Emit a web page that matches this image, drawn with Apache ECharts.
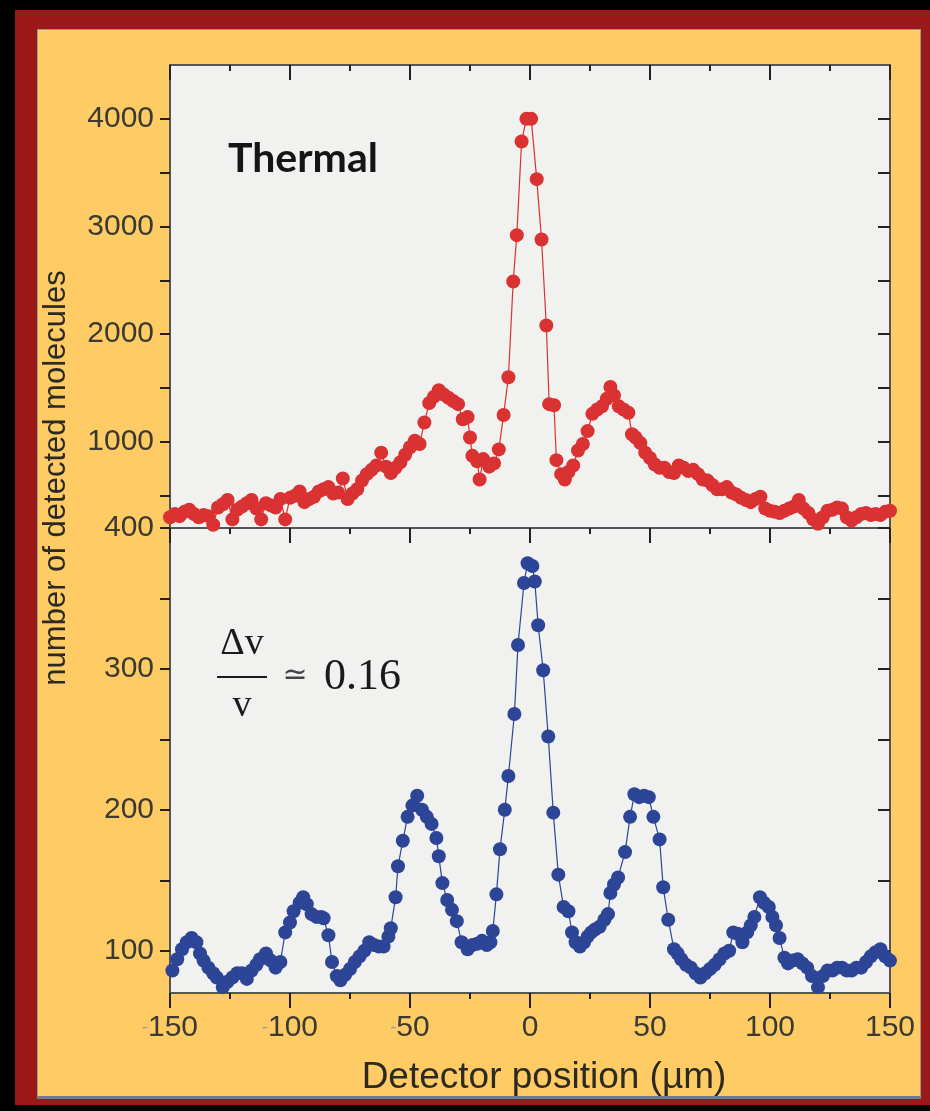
<!DOCTYPE html>
<html>
<head>
<meta charset="utf-8">
<script src="https://cdn.jsdelivr.net/npm/echarts@6/dist/echarts.min.js"></script>
<style>
  html, body { margin: 0; padding: 0; background: #000; }
  #frame { position: absolute; left: 15px; top: 10px; width: 915px; height: 1095px; background: #9b1919; }
  #panel { position: absolute; left: 37px; top: 29px; width: 882px; height: 1066px; background: #ffcb64;
           border: 1px solid #9a9a8a; border-bottom: 3px solid #6b7b96; }
  #plotbg { position: absolute; left: 170px; top: 65px; width: 720px; height: 928px; background: #f1f1ef; }
  #main { position: absolute; left: 0; top: 0; width: 930px; height: 1111px; }
</style>
</head>
<body>
<div id="frame"></div>
<div id="panel"></div>
<div id="plotbg"></div>
<div id="main"></div>
<script>
  // thermal beam, [position µm, counts]
  const thermal = [
    [-150, 300], [-148, 330], [-146, 310], [-144, 350], [-142, 370], [-140, 330], [-138, 300], [-136, 320],
    [-134, 310], [-132, 230], [-130, 390], [-128, 420], [-126, 460], [-124, 280], [-122, 370], [-120, 400],
    [-118, 430], [-116, 460], [-114, 380], [-112, 280], [-110, 430], [-108, 410], [-106, 390], [-104, 470],
    [-102, 280], [-100, 480], [-98, 500], [-96, 540], [-94, 440], [-92, 470], [-90, 490], [-88, 540],
    [-86, 560], [-84, 580], [-82, 520], [-80, 530], [-78, 660], [-76, 470], [-74, 520], [-72, 560],
    [-70, 640], [-68, 700], [-66, 740], [-64, 780], [-62, 900], [-60, 770], [-58, 710], [-56, 760],
    [-54, 810], [-52, 880], [-50, 950], [-48, 1010], [-46, 980], [-44, 1180], [-42, 1360], [-40, 1420],
    [-38, 1480], [-36, 1440], [-34, 1410], [-32, 1380], [-30, 1350], [-28, 1210], [-26, 1230], [-25, 1040],
    [-24, 870], [-22, 820], [-21, 650], [-19.5, 840], [-17, 770], [-15, 800], [-13, 930], [-11, 1250],
    [-9, 1600], [-7, 2490], [-5.5, 2920], [-3.5, 3790], [-1.5, 4000], [0.5, 4000], [2.8, 3440], [4.8, 2880],
    [6.8, 2080], [8, 1350], [10, 1340], [11, 830], [13, 700], [14.5, 650], [16, 720], [18, 780],
    [20, 920], [22, 980], [24, 1100], [26, 1260], [28, 1300], [30, 1330], [32, 1400], [33.5, 1510],
    [35, 1430], [37, 1330], [39, 1300], [41, 1270], [42.5, 1070], [44, 1040], [46, 990], [48, 900],
    [50, 850], [52, 790], [54, 760], [56, 760], [58, 720], [60, 710], [62, 780], [64, 760],
    [66, 730], [68, 740], [70, 700], [72, 650], [74, 640], [76, 600], [78, 560], [80, 560],
    [82, 580], [84, 530], [86, 510], [88, 480], [90, 460], [92, 440], [94, 470], [96, 490],
    [98, 380], [100, 360], [102, 350], [104, 340], [106, 360], [108, 380], [110, 400], [112, 460],
    [114, 380], [116, 340], [118, 280], [120, 240], [122, 300], [124, 360], [126, 370], [128, 390],
    [130, 380], [132, 300], [134, 270], [136, 300], [138, 330], [140, 340], [142, 320], [144, 330],
    [146, 320], [148, 350], [150, 360]
  ]

  // velocity selected beam, dv/v ~ 0.16
  const selected = [
    [-149, 86], [-147, 94], [-145, 101], [-143, 106], [-141, 109], [-139, 106], [-137.5, 98], [-136, 93],
    [-134, 88], [-132, 84], [-130.5, 81], [-128, 74], [-126, 78], [-124, 81], [-122, 84], [-120, 84],
    [-118, 80], [-116, 86], [-114, 90], [-112.5, 94], [-110, 98], [-108, 93], [-106, 88], [-104, 92],
    [-102, 113], [-100, 120], [-98.5, 128], [-96, 134], [-94.5, 138], [-93, 133], [-91, 126], [-89, 124],
    [-87, 124], [-86, 123], [-84, 111], [-82.5, 92], [-80.5, 82], [-79, 79], [-77, 83], [-75, 87],
    [-73, 92], [-71, 96], [-69, 100], [-67, 106], [-65, 104], [-63, 103], [-61, 103], [-59, 110],
    [-58, 116], [-56, 138], [-55, 160], [-53, 178], [-51, 195], [-49, 203], [-47, 210], [-45, 200],
    [-43, 195], [-41, 190], [-39, 180], [-38, 167], [-36.5, 148], [-34.5, 136], [-32.5, 129], [-30.5, 121],
    [-28.5, 106], [-26, 101], [-24, 104], [-22, 105], [-20, 107], [-18, 104], [-16.5, 106], [-15.5, 114],
    [-14, 140], [-12.5, 172], [-10.5, 200], [-9, 224], [-6.5, 268], [-5, 317], [-2.5, 361], [-1, 375],
    [1, 373], [2, 362], [3.4, 331], [5.5, 299], [7.6, 252], [9.7, 198], [11.8, 154], [14, 131],
    [16, 128], [17.5, 113], [19, 106], [20.8, 103], [22.5, 106], [24, 110], [25.5, 113], [27, 115],
    [29, 117], [31, 122], [32.5, 126], [33.5, 141], [35, 147], [36.7, 152], [39.6, 170], [41.7, 195],
    [43.5, 211], [45.5, 209], [47.5, 210], [49.5, 209], [51.4, 195], [54, 179], [55.5, 145], [57.6, 122],
    [60, 101], [61.5, 98], [63, 94], [65, 90], [67, 88], [69, 84], [71, 81], [73, 84],
    [75, 87], [77, 90], [79, 94], [81, 98], [83, 100], [84.7, 113], [86.5, 112], [88.5, 106],
    [90.5, 113], [92, 118], [93.5, 124], [95.8, 138], [97.5, 134], [99.5, 131], [101, 124], [102.5, 118],
    [104, 109], [106, 95], [107.5, 91], [109.5, 93], [111.5, 94], [113.5, 91], [115.5, 88], [117.5, 82],
    [120, 74], [122, 82], [124, 86], [126, 86], [128, 88], [130, 88], [132, 86], [134, 86],
    [136, 88], [138, 88], [140, 92], [142, 96], [144, 99], [146, 101], [148, 96], [150, 93]
  ]

  const xTicks = [-150, -100, -50, 0, 50, 100, 150]
  const xMinorTicks = [-125, -75, -25, 25, 75, 125]
  const topTicks = [200, 500, 1000, 1500, 2000, 2500, 3000, 3500, 4000]
  const topLabels = [200, 1000, 2000, 3000, 4000]
  const bottomTicks = [100, 150, 200, 250, 300, 350]
  const bottomLabels = [100, 200, 300]

  const TOP_MAX = 4500
  const BOTTOM_MAX = 400

  const RED = '#da3232'
  const BLUE = '#2c4596'
  const AXIS = '#555'
  const FONT = '"Liberation Sans", Arial, sans-serif'
  const labelStyle = { fontFamily: FONT, fontSize: 30, color: '#3a3a30' }

  const chart = echarts.init(document.getElementById('main'), null, { renderer: 'canvas' })

  function xAxisDef(gridIndex, labels) {
    return {
      type: 'value', gridIndex, position: 'bottom',
      min: xTicks[0], max: xTicks[xTicks.length - 1], interval: 50,
      axisLine: { show: true, onZero: false, lineStyle: { color: AXIS, width: 2 } },
      axisTick: { show: labels, length: 15, lineStyle: { color: '#222', width: 2 } },
      minorTick: { show: labels, splitNumber: 2, length: 6, lineStyle: { color: '#222', width: 2 } },
      axisLabel: {
        show: labels, margin: 20, ...labelStyle,
        formatter: v => v < 0 ? '{m|-}' + Math.abs(v) : String(v),
        rich: { m: { fontSize: 18, color: '#999', fontFamily: FONT } }
      },
      splitLine: { show: false }
    }
  }

  function yAxisDef(gridIndex, position, min, max, ticks, labels, fmt) {
    const left = position === 'left'
    return {
      type: 'value', gridIndex, position, min, max,
      axisLine: { show: true, onZero: false, lineStyle: { color: AXIS, width: 2 } },
      axisTick: {
        show: true, inside: !left, length: left ? 10 : 12, customValues: ticks,
        lineStyle: { color: '#222', width: 2 }
      },
      axisLabel: {
        show: left, margin: 16, customValues: labels, ...labelStyle, formatter: fmt
      },
      splitLine: { show: false }
    }
  }

  // ticks hanging down from the top edge of a panel: [x, top of axis, tick length]
  function edgeTicks(yMax) {
    return xTicks.map(x => [x, yMax, 15]).concat(xMinorTicks.map(x => [x, yMax, 6]))
  }

  function tickSeries(xAxisIndex, yAxisIndex, yMax) {
    return {
      type: 'custom', xAxisIndex, yAxisIndex, clip: false, silent: true, z: 4,
      data: edgeTicks(yMax),
      renderItem: (params, api) => {
        const p = api.coord([api.value(0), api.value(1)])
        return {
          type: 'line',
          shape: { x1: p[0], y1: p[1], x2: p[0], y2: p[1] + api.value(2) },
          style: { stroke: '#222', lineWidth: 2 }
        }
      }
    }
  }

  chart.setOption({
    animation: false,
    backgroundColor: 'transparent',
    grid: [
      { left: 170, top: 65, width: 720, height: 463, show: false },
      { left: 170, top: 528, width: 720, height: 465, show: false },
      { left: 170, top: 25, width: 720, height: 40, show: false }
    ],
    xAxis: [
      xAxisDef(0, false),
      xAxisDef(1, true),
      xAxisDef(2, false)
    ],
    yAxis: [
      yAxisDef(0, 'left', 200, TOP_MAX, topTicks, topLabels, v => v === 200 ? '400' : String(v)),
      yAxisDef(0, 'right', 200, TOP_MAX, topTicks, topLabels),
      yAxisDef(1, 'left', 70, BOTTOM_MAX, bottomTicks, bottomLabels, v => String(v)),
      yAxisDef(1, 'right', 70, BOTTOM_MAX, bottomTicks, bottomLabels),
      { type: 'value', gridIndex: 2, min: 0, max: 1, show: false }
    ],
    series: [
      {
        name: 'Thermal', type: 'line', xAxisIndex: 0, yAxisIndex: 0, data: thermal,
        symbol: 'circle', symbolSize: 14, showAllSymbol: true, clip: false, z: 3,
        itemStyle: { color: RED }, lineStyle: { color: RED, width: 1.2 }
      },
      {
        name: 'Selected', type: 'line', xAxisIndex: 1, yAxisIndex: 2, data: selected,
        symbol: 'circle', symbolSize: 14, showAllSymbol: true, clip: false, z: 3,
        itemStyle: { color: BLUE }, lineStyle: { color: BLUE, width: 1.2 }
      },
      tickSeries(0, 0, TOP_MAX),
      tickSeries(1, 2, BOTTOM_MAX)
    ],
    graphic: [
      {
        type: 'text', left: 228, top: 138,
        style: { text: 'Thermal', font: 'bold 41px Lato, "Open Sans", sans-serif', fill: '#151515' }
      },
      {
        type: 'text', x: 242, y: 644,
        style: { text: 'Δv', font: '38px "Liberation Serif", "DejaVu Serif", serif', fill: '#1a1a1a',
                 textAlign: 'center', textVerticalAlign: 'middle' }
      },
      {
        type: 'line', shape: { x1: 217, y1: 677, x2: 267, y2: 677 },
        style: { stroke: '#1a1a1a', lineWidth: 2 }
      },
      {
        type: 'text', x: 242, y: 706,
        style: { text: 'v', font: '38px "Liberation Serif", "DejaVu Serif", serif', fill: '#1a1a1a',
                 textAlign: 'center', textVerticalAlign: 'middle' }
      },
      {
        type: 'text', x: 295, y: 676,
        style: { text: '≃', font: '30px "DejaVu Serif", serif', fill: '#444',
                 textAlign: 'center', textVerticalAlign: 'middle' }
      },
      {
        type: 'text', x: 324, y: 677,
        style: { text: '0.16', font: '44px "Liberation Serif", "DejaVu Serif", serif', fill: '#1a1a1a',
                 textAlign: 'left', textVerticalAlign: 'middle' }
      },
      {
        type: 'text', x: 56, y: 478, rotation: Math.PI / 2,
        style: { text: 'number of detected molecules', font: '31px ' + FONT, fill: '#2a2a22',
                 textAlign: 'center', textVerticalAlign: 'middle' }
      },
      {
        type: 'text', x: 544, y: 1078,
        style: { text: 'Detector position (µm)', font: '37px ' + FONT, fill: '#2a2a22',
                 textAlign: 'center', textVerticalAlign: 'middle' }
      }
    ]
  })
</script>
</body>
</html>
